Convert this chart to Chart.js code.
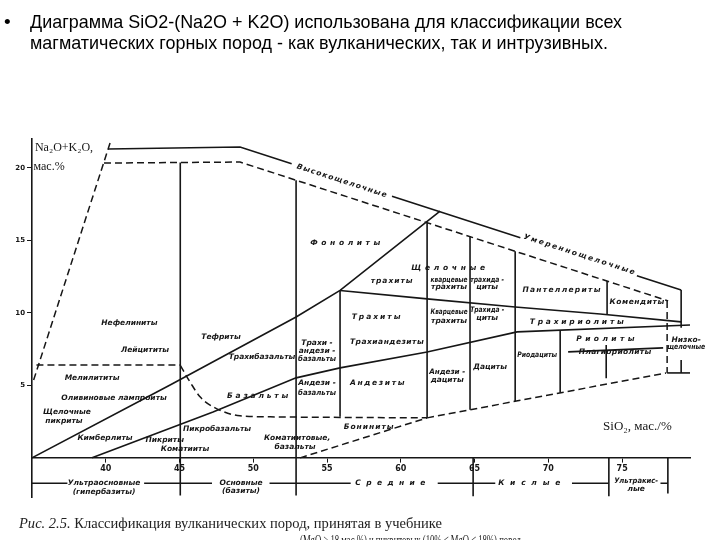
<!DOCTYPE html>
<html>
<head>
<meta charset="utf-8">
<script src="https://cdn.jsdelivr.net/npm/chart.js@4.4.0/dist/chart.umd.min.js"></script>
<style>
  html, body { margin: 0; padding: 0; background: #fff; }
  canvas { display: block; }
</style>
</head>
<body>
<canvas id="tasChart" width="720" height="540"></canvas>
<script>
const xTicks = [40, 45, 50, 55, 60, 65, 70, 75];
const yTicks = [5, 10, 15, 20];

// границы полей, точки [SiO2, Na2O+K2O]; null — разрыв линии (там подпись)
const outerTop = [[40.15, 21.31], [49.1, 21.45], [52.6, 20.3], null, [59.4, 18.05], [68.1, 15.18], null, [76.0, 12.57], [79.0, 11.58]];
const outerRight = [[79.0, 11.58], [79.0, 8.97], null, [79.0, 6.76], [79.0, 5.86]];
const rightFoot = [[78.05, 5.86], [79.6, 5.86]];
const lineA = [[35, 0], [44.36, 5.03], [52.9, 9.72], [55.88, 11.55], [62.66, 17.03]];
const lineB = [[39.07, 0], [47.27, 3.17], [52.9, 5.52], [55.88, 6.21], [61.78, 7.31], [67.88, 8.69], [79.6, 9.17]];
const lineH = [[55.88, 11.55], [61.78, 10.97], [67.75, 10.41], [73.51, 9.93], [79.0, 9.38]];
const rhyoliteLine = [[71.34, 7.31], [77.78, 7.59]];
const verticals = [
  [[45.05, 20.38], [45.05, -2.6]],
  [[52.9, 19.16], [52.9, -2.6]],
  [[55.88, 11.55], [55.88, 2.83]],
  [[61.78, 16.23], [61.78, 2.76]],
  [[64.69, 15.27], [64.69, 3.32]],
  [[67.75, 14.26], [67.75, 3.9]],
  [[70.8, 8.81], [70.8, 4.49]],
  [[73.98, 12.2], [73.98, 9.88]],
  [[73.92, 7.79], [73.92, 5.5]]
];

// пунктирные границы
const alkaliDashed = [[39.88, 20.34], [49.1, 20.41], [78.12, 10.83]];
const leftDashed = [[40.29, 21.72], [35.07, 5.24]];
const melilitDashed = [[35.3, 6.41], [45.05, 6.41]];
const basaltDashed = [[45.05, 6.38], [45.71, 5.24], [46.39, 4.21], [47.41, 3.45], [49.1, 2.9], [51.14, 2.83], [61.78, 2.76]];
const lowDashed = [[61.78, 2.76], [77.98, 5.86]];
const boniniteDashed = [[53.17, 0], [61.78, 2.76]];
const rightDashed = [[78.05, 10.83], [78.05, 5.86]];

// шкала групп по SiO2 под осью
const groupBar = [[35, -1.75], [37.4, -1.75], null, [42.6, -1.75], [47.2, -1.75], null, [51.1, -1.75], [56.6, -1.75], null,
  [62.5, -1.75], [66.4, -1.75], null, [71.6, -1.75], [74.1, -1.75], null, [77.6, -1.75], [78.1, -1.75]];
const groupTicks = [
  [[64.9, 0], [64.9, -2.65]],
  [[74.1, 0], [74.1, -2.65]],
  [[78.1, 0], [78.1, -2.45]]
];

// названия пород: текст, SiO2, Na2O+K2O, разрядка, поворот, макс. ширина
const rockNames = [
  ['Нефелиниты', 41.6, 9.31],
  ['Лейцититы', 42.66, 7.45],
  ['Мелилититы', 39.07, 5.5],
  ['Оливиновые лампроиты', 40.56, 4.14],
  ['Щелочные', 37.37, 3.17],
  ['пикриты', 37.17, 2.55],
  ['Кимберлиты', 39.95, 1.38],
  ['Пикриты', 44.0, 1.24],
  ['Коматииты', 45.37, 0.62],
  ['Пикробазальты', 47.54, 2.0],
  ['Коматиитовые,', 52.97, 1.38],
  ['базальты', 52.83, 0.76],
  ['Бониниты', 57.85, 2.14, 1],
  ['Тефриты', 47.81, 8.34],
  ['Трахибазальты', 50.59, 6.97],
  ['Базальты', 50.39, 4.28, 2.8],
  ['Трахи -', 54.32, 7.93, 0, 0, 38],
  ['андези -', 54.32, 7.38, 0, 0, 38],
  ['базальты', 54.32, 6.83, 0, 0, 38],
  ['Андези -', 54.32, 5.17, 0, 0, 38],
  ['базальты', 54.32, 4.48, 0, 0, 38],
  ['Фонолиты', 56.36, 14.83, 3.6],
  ['Щелочные', 63.34, 13.1, 3.7],
  ['трахиты', 59.41, 12.21, 1],
  ['кварцевые', 63.27, 12.28, 0, 0, 37],
  ['трахиты', 63.27, 11.79, 0, 0, 37],
  ['трахида -', 65.85, 12.28, 0, 0, 34],
  ['циты', 65.85, 11.79, 0, 0, 34],
  ['Пантеллериты', 70.93, 11.59, 1.3],
  ['Комендиты', 76.02, 10.76, 0.6],
  ['Трахиты', 58.39, 9.72, 2],
  ['Трахиандезиты', 59.07, 8.0, 0.5],
  ['Кварцевые', 63.27, 10.07, 0, 0, 37],
  ['трахиты', 63.27, 9.45, 0, 0, 37],
  ['Трахида -', 65.85, 10.2, 0, 0, 34],
  ['циты', 65.85, 9.66, 0, 0, 34],
  ['Трахириолиты', 72.02, 9.38, 2.8],
  ['Андезиты', 58.46, 5.17, 1.7],
  ['Андези -', 63.14, 5.93, 0, 0, 36],
  ['дациты', 63.14, 5.38, 0, 0, 36],
  ['Дациты', 66.05, 6.28],
  ['Риодациты', 69.24, 7.1, 0, 0, 40],
  ['Риолиты', 73.98, 8.21, 3.4],
  ['Плагиориолиты', 74.53, 7.31, 0.3],
  ['Низко-', 79.34, 8.14],
  ['щелочные', 79.34, 7.66, 0, 0, 38],
  ['Высокощелочные', 56.02, 19.1, 1.2, 18],
  ['Умереннощелочные', 72.15, 14.0, 1.8, 18],
  ['Ультраосновные', 39.88, -1.75],
  ['(гипербазиты)', 39.88, -2.35],
  ['Основные', 49.17, -1.75],
  ['(базиты)', 49.17, -2.3],
  ['Средние', 59.47, -1.75, 5.4],
  ['Кислые', 68.9, -1.75, 5.8],
  ['Ультракис-', 75.95, -1.6, 0, 0, 44],
  ['лые', 75.95, -2.15]
];

const INK = '#161616';

function pts(arr) {
  let last = arr[0];
  return arr.map(p => {
    if (p) { last = p; return { x: p[0], y: p[1] }; }
    return { x: last[0], y: null };
  });
}

const datasets = [];
function addLine(arr, dashed) {
  datasets.push({
    data: pts(arr),
    borderColor: INK,
    borderWidth: dashed ? 1.5 : 1.6,
    borderDash: dashed ? [7, 4] : [],
    pointRadius: 0,
    spanGaps: false,
    fill: false,
    cubicInterpolationMode: arr === basaltDashed ? 'monotone' : 'default'
  });
}

[outerTop, outerRight, rightFoot, lineA, lineB, lineH, rhyoliteLine, groupBar].forEach(a => addLine(a, false));
verticals.forEach(a => addLine(a, false));
groupTicks.forEach(a => addLine(a, false));
[alkaliDashed, leftDashed, melilitDashed, basaltDashed, lowDashed, boniniteDashed, rightDashed].forEach(a => addLine(a, true));

function fitText(ctx, text, x, y, width) {
  const w = ctx.measureText(text).width;
  ctx.save();
  ctx.translate(x, y);
  ctx.scale(width / w, 1);
  ctx.fillText(text, 0, 0);
  ctx.restore();
}

const textPlugin = {
  id: 'tasText',
  afterDraw(chart) {
    const { ctx, scales: { x, y } } = chart;
    ctx.save();
    ctx.fillStyle = INK;
    ctx.textBaseline = 'middle';

    // подписи полей
    ctx.textAlign = 'center';
    ctx.font = 'italic bold 7.5px "DejaVu Sans", sans-serif';
    rockNames.forEach(([t, sx, sy, sp = 0, rot = 0, maxW]) => {
      ctx.save();
      ctx.translate(x.getPixelForValue(sx), y.getPixelForValue(sy));
      ctx.rotate(rot * Math.PI / 180);
      ctx.letterSpacing = sp + 'px';
      if (maxW) ctx.fillText(t, 0, 0, maxW);
      else ctx.fillText(t, 0, 0);
      ctx.restore();
    });

    // подписи осей
    ctx.textAlign = 'left';
    ctx.font = '12px "Liberation Serif", "DejaVu Serif", serif';
    ctx.fillText('Na₂O+K₂O,', x.getPixelForValue(35.2), y.getPixelForValue(21.38));
    ctx.fillText('мас.%', x.getPixelForValue(35.1), y.getPixelForValue(20.05));
    ctx.font = '13px "Liberation Serif", "DejaVu Serif", serif';
    ctx.fillText('SiO₂, мас./%', x.getPixelForValue(73.71), y.getPixelForValue(2.14));

    // заголовок слайда
    ctx.fillStyle = '#000';
    ctx.font = '19px "Liberation Sans", Arial, sans-serif';
    ctx.fillText('•', 4, 23);
    fitText(ctx, 'Диаграмма SiO2-(Na2O + K2O) использована для классификации всех', 30, 23, 592);
    fitText(ctx, 'магматических горных пород - как вулканических, так и интрузивных.', 30, 44, 578);

    // подпись рисунка
    ctx.fillStyle = '#222';
    const head = 'Рис. 2.5.';
    const rest = ' Классификация вулканических пород, принятая в учебнике';
    ctx.font = 'italic 15px "Liberation Serif", serif';
    const w1 = ctx.measureText(head).width;
    ctx.font = '15px "Liberation Serif", serif';
    const w2 = ctx.measureText(rest).width;
    const k = 423 / (w1 + w2);
    ctx.save();
    ctx.translate(19, 524);
    ctx.scale(k, 1);
    ctx.font = 'italic 15px "Liberation Serif", serif';
    ctx.fillText(head, 0, 0);
    ctx.font = '15px "Liberation Serif", serif';
    ctx.fillText(rest, w1, 0);
    ctx.restore();
    ctx.font = '15px "Liberation Serif", serif';
    fitText(ctx, '(MgO > 18 мас.%) и пикритовых (10% ≤ MgO ≤ 18%) пород', 300, 541, 221);
    ctx.restore();
  }
};

new Chart(document.getElementById('tasChart'), {
  type: 'line',
  data: { datasets },
  options: {
    responsive: false,
    animation: false,
    devicePixelRatio: 1,
    layout: { padding: { top: 139, right: 30, bottom: 43, left: 0 } },
    plugins: { legend: { display: false }, tooltip: { enabled: false } },
    scales: {
      x: {
        type: 'linear',
        min: 35,
        max: 79.6,
        position: { y: 0 },
        afterBuildTicks: axis => { axis.ticks = xTicks.map(v => ({ value: v })); },
        grid: { drawOnChartArea: false, tickLength: 4, color: INK },
        border: { color: INK, width: 1.6 },
        ticks: { color: INK, padding: 2, maxRotation: 0, font: { size: 8, weight: 'bold', family: '"DejaVu Sans", sans-serif' } }
      },
      y: {
        type: 'linear',
        min: -2.7,
        max: 22,
        afterFit: axis => { axis.width = 32; },
        afterBuildTicks: axis => { axis.ticks = yTicks.map(v => ({ value: v })); },
        grid: { drawOnChartArea: false, tickLength: 5, color: INK },
        border: { color: INK, width: 1.6 },
        ticks: { color: INK, padding: 2, font: { size: 7, weight: 'bold', family: '"DejaVu Sans", sans-serif' } }
      }
    }
  },
  plugins: [textPlugin]
});
</script>
</body>
</html>
